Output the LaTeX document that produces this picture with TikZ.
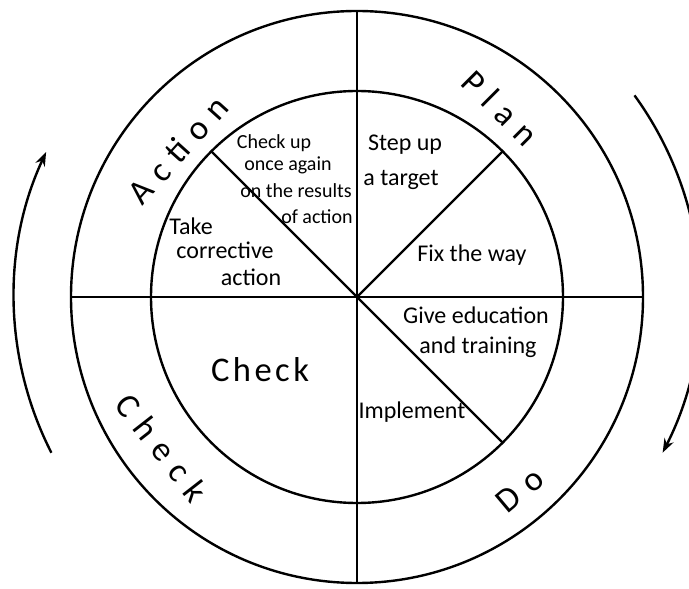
\documentclass[tikz,border=0pt]{standalone}
\usepackage{fontspec}
\setmainfont{Carlito}
\usetikzlibrary{arrows.meta}

\begin{document}
\begin{tikzpicture}[x=0.5pt, y=0.5pt,
    ring/.style={line width=1.2pt},
    turn/.style={line width=1.2pt, -{Stealth[length=7pt,width=5pt]}},
    task/.style={font=\large, inner sep=0pt},
    note/.style={font=\normalsize, inner sep=0pt},
    phase/.style={font=\LARGE\addfontfeatures{LetterSpace=30}, inner sep=0pt}]
    \useasboundingbox (-357,-291) rectangle (332,297);
    \coordinate (O) at (0,0);

    % Wheel
    \draw[ring] (O) circle (286);
    \draw[ring] (O) circle (206);
    \draw[ring] (90:286) -- (270:286);
    \draw[ring] (180:286) -- (0:286);
    \foreach \a in {45,135,-45}
        \draw[ring] (O) -- (\a:206);

    % Direction of the cycle
    \draw[turn] (207:343) arc[start angle=207, end angle=155, radius=343];
    \draw[turn] (36:343) arc[start angle=36, end angle=-27, radius=343];

    % Phases
    \node[phase, rotate=-45] (plan) at (143,189) {Plan};
    \node[phase, rotate=40] (do) at (163,-193) {Do};
    \node[phase, rotate=-52] (check) at (-195,-151) {Check};
    \node[phase, rotate=48] (action) at (-179,147) {Action};

    % Steps
    \node[task] (target) at (48,152) {Step up};
    \node[task] (target2) at (44,117) {a target};
    \node[task] (way) at (115,42) {Fix the way};
    \node[task] (educ) at (119,-18) {Give education};
    \node[task] (educ2) at (121,-50) {and training};
    \node[task] (impl) at (55,-115) {Implement};
    \node[font=\LARGE\addfontfeatures{LetterSpace=10}] (checkin) at (-97,-73) {Check};
    \node[task] (take) at (-166,71) {Take};
    \node[task] (take2) at (-132,47) {corrective};
    \node[task] (take3) at (-106,20) {action};
    \node[note] (again) at (-83,154) {Check up};
    \node[note] (again2) at (-69,132) {once again};
    \node[note] (again3) at (-61,106) {on the results};
    \node[note] (again4) at (-40,80) {of action};
\end{tikzpicture}
\end{document}
